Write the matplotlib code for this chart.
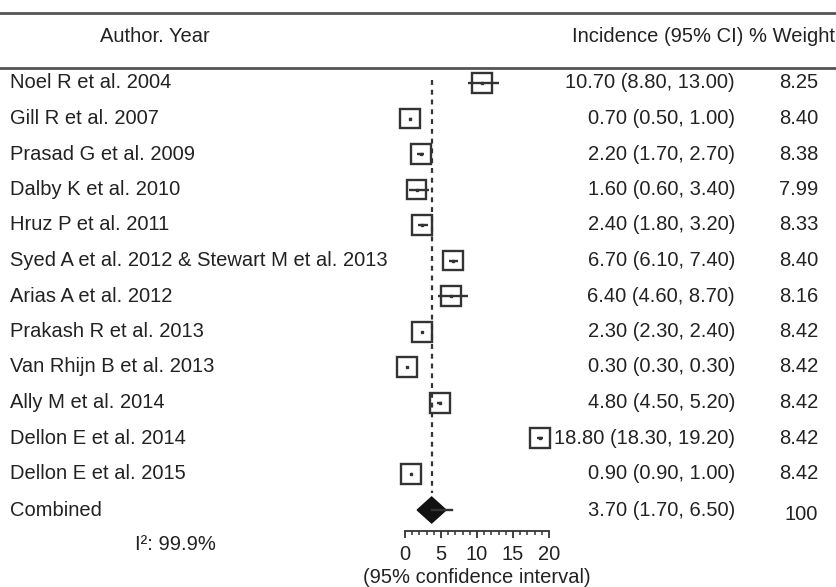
import matplotlib
matplotlib.use('Agg')
from matplotlib import pyplot as plt
from matplotlib.patches import Rectangle, Polygon
from matplotlib.lines import Line2D
from matplotlib import transforms
import math as mt

plt.rcParams['font.family'] = ['Liberation Sans', 'DejaVu Sans']

# datos del forest plot
autores = ['Noel R et al. 2004', 'Gill R et al. 2007', 'Prasad G et al. 2009',
           'Dalby K et al. 2010', 'Hruz P et al. 2011',
           'Syed A et al. 2012 & Stewart M et al. 2013', 'Arias A et al. 2012',
           'Prakash R et al. 2013', 'Van Rhijn B et al. 2013', 'Ally M et al. 2014',
           'Dellon E et al. 2014', 'Dellon E et al. 2015']
incidencias = [10.70, 0.70, 2.20, 1.60, 2.40, 6.70, 6.40, 2.30, 0.30, 4.80, 18.80, 0.90]
inferiores = [8.80, 0.50, 1.70, 0.60, 1.80, 6.10, 4.60, 2.30, 0.30, 4.50, 18.30, 0.90]
superiores = [13.00, 1.00, 2.70, 3.40, 3.20, 7.40, 8.70, 2.40, 0.30, 5.20, 19.20, 1.00]
pesos = [8.25, 8.40, 8.38, 7.99, 8.33, 8.40, 8.16, 8.42, 8.42, 8.42, 8.42, 8.42]

combinado = 3.70
combinadoInf = 1.70
combinadoSup = 6.50
pesoTotal = 100
i2 = 99.9

ticks = [0, 5, 10, 15, 20]

W, H = 836, 587
fs = 14.5
gris = '#333333'
texto = '#222222'

fig = plt.figure(figsize=(W/100, H/100), dpi=100)
# eje del grafico: x de 405 a 549 px, y en pixeles desde arriba
ax = fig.add_axes([405/W, 1 - 531/H, 144/W, 531/H])
ax.set_xlim(0, 20)
ax.set_ylim(531, 0)
ax.patch.set_alpha(0)
for s in ['top', 'right', 'left']:
    ax.spines[s].set_visible(False)
ax.spines['bottom'].set_color(gris)
ax.spines['bottom'].set_linewidth(1.3)
ax.set_yticks([])
ax.set_xticks(ticks)
ax.set_xticks(range(0, 21), minor=True)
ax.tick_params(axis='x', which='major', length=5, width=1.3, color=gris,
               labelsize=fs, pad=5, labelcolor=texto)
ax.tick_params(axis='x', which='minor', length=3, width=1.1, color=gris)
ax.set_xlabel('(95% confidence interval)', fontsize=fs, color=texto, labelpad=3)

pxX = 20/144  # unidades de x por pixel
y0 = 83
dy = 35.5

tr = transforms.blended_transform_factory(fig.transFigure, ax.transData)

# linea punteada en el combinado
ax.plot([combinado, combinado], [80, 493], color=gris, lw=1.6,
        linestyle=(0, (2.2, 2.2)), clip_on=False)

for i in range(len(autores)):
    y = y0 + dy*i
    lado = 20*mt.sqrt(pesos[i]/8.42)
    ax.add_patch(Rectangle((incidencias[i] - lado/2*pxX, y - lado/2), lado*pxX, lado,
                           fill=False, edgecolor=gris, lw=1.7, clip_on=False))
    ax.plot([inferiores[i], superiores[i]], [y, y], color=gris, lw=1.7,
            solid_capstyle='butt', clip_on=False)
    ax.plot(incidencias[i], y, marker='s', ms=2, color=gris, clip_on=False)
    ax.text(10/W, y, autores[i], transform=tr, ha='left', va='center',
            fontsize=fs, color=texto)
    ax.text(735/W, y, f'{incidencias[i]:.2f} ({inferiores[i]:.2f}, {superiores[i]:.2f})',
            transform=tr, ha='right', va='center', fontsize=fs, color=texto)
    ax.text(818/W, y, f'{pesos[i]:.2f}', transform=tr, ha='right', va='center',
            fontsize=fs, color=texto)

# combinado
yc = y0 + dy*len(autores) + 1
mitad = combinado - combinadoInf
ax.add_patch(Polygon([[combinadoInf, yc], [combinado, yc - 13],
                      [combinado + mitad, yc], [combinado, yc + 13]],
                     closed=True, facecolor='#111111', edgecolor='#111111', clip_on=False))
ax.plot([combinado, combinadoSup], [yc, yc], color=gris, lw=1.7, clip_on=False)
ax.text(10/W, yc, 'Combined', transform=tr, ha='left', va='center', fontsize=fs, color=texto)
ax.text(735/W, yc, f'{combinado:.2f} ({combinadoInf:.2f}, {combinadoSup:.2f})',
        transform=tr, ha='right', va='center', fontsize=fs, color=texto)
ax.text(818/W, yc + 4, f'{pesoTotal}', transform=tr, ha='right', va='center',
        fontsize=fs, color=texto)
fig.text(135/W, 1 - 545/H, f'I²: {i2}%', ha='left', va='center',
         fontsize=fs, color=texto)

# encabezado
fig.text(155/W, 1 - 37/H, 'Author. Year', ha='center', va='center', fontsize=fs, color=texto)
fig.text(835/W, 1 - 37/H, 'Incidence (95% CI) % Weight', ha='right', va='center',
         fontsize=fs, color=texto)
for yl in [13, 68]:
    fig.add_artist(Line2D([0, 1], [1 - yl/H, 1 - yl/H], transform=fig.transFigure,
                          color='#555555', lw=2))

plt.savefig('out.png', dpi=100)
